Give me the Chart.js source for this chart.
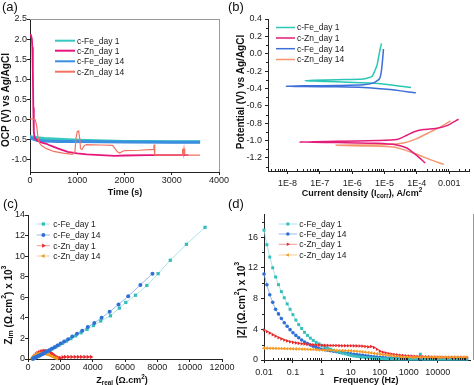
<!DOCTYPE html>
<html>
<head>
<meta charset="utf-8">
<script src="https://cdn.jsdelivr.net/npm/chart.js@4/dist/chart.umd.min.js"></script>
<style>
  body { margin: 0; background: #fff; }
  #wrap { position: relative; width: 474px; height: 385px; overflow: hidden; }
  canvas { position: absolute; left: 0; top: 0; }
</style>
</head>
<body>
<div id="wrap">
  <canvas id="ca" width="474" height="385"></canvas>
  <canvas id="cb" width="474" height="385"></canvas>
  <canvas id="cc" width="474" height="385"></canvas>
  <canvas id="cd" width="474" height="385"></canvas>
</div>
<script>
//labels
var labelsAB = ["c-Fe_day 1", "c-Zn_day 1", "c-Fe_day 14", "c-Zn_day 14"];
var labelsCD = ["c-Fe_day 1", "c-Fe_day 14", "c-Zn_day 1", "c-Zn_day 14"];

//(a) OCP vs time
var aXTicks = [0, 1000, 2000, 3000, 4000];
var aYTicks = [-1.0, -0.5, 0.0, 0.5, 1.0, 1.5, 2.0, 2.5];
var aFe1T = [0, 50, 150, 300, 500, 800, 1200, 1600, 2000, 2500, 3000, 3600];
var aFe1V = [-0.42, -0.43, -0.45, -0.47, -0.48, -0.5, -0.52, -0.53, -0.54, -0.545, -0.55, -0.55];
var aFe14T = [0, 30, 80, 150, 300, 600, 1000, 1500, 2000, 3000, 3600];
var aFe14V = [-0.44, -0.46, -0.49, -0.51, -0.53, -0.54, -0.545, -0.55, -0.555, -0.56, -0.56];
var aZn1T = [0, 20, 40, 50, 60, 70, 80, 100, 150, 250, 350, 400, 450, 600, 800, 1000, 1200, 1500, 1800, 2000, 2500, 3000, 3350];
var aZn1V = [2.12, 2.1, 2.0, 1.8, 1.2, 0.3, -0.3, -0.45, -0.52, -0.57, -0.6, -0.63, -0.65, -0.72, -0.8, -0.84, -0.86, -0.88, -0.9, -0.89, -0.88, -0.88, -0.88];
var aZn14T = [0, 60, 110, 140, 170, 200, 250, 350, 500, 700, 900, 950, 975, 1000, 1030, 1050, 1070, 1100, 1150, 1200, 1500, 1750, 1800, 1850, 1900, 1950, 2000, 2300, 2620, 2625, 2640, 2650, 3000, 3220, 3230, 3245, 3260, 3275, 3290, 3600];
var aZn14V = [0.02, 0.02, 0.0, -0.15, -0.45, -0.58, -0.65, -0.72, -0.79, -0.83, -0.86, -0.8, -0.45, -0.3, -0.28, -0.45, -0.72, -0.74, -0.64, -0.62, -0.63, -0.64, -0.72, -0.8, -0.83, -0.79, -0.77, -0.76, -0.74, -0.62, -0.88, -0.88, -0.88, -0.88, -0.72, -0.86, -0.72, -0.86, -0.88, -0.88];

//(b) Tafel
var bXTicks = [1e-8, 1e-7, 1e-6, 1e-5, 1e-4, 1e-3];
var bXLabels = ["1E-8", "1E-7", "1E-6", "1E-5", "1E-4", "0.001"];
var bYTicks = [-1.2, -1.0, -0.8, -0.6, -0.4, -0.2, 0.0, 0.2, 0.4];
var bFe1I = [6.6e-5, 1.2e-5, 3.6e-6, 3.4e-7, 6.4e-8, 3.5e-8, 6.4e-8, 3.4e-7, 2.2e-6, 4.1e-6, 5.1e-6, 5.9e-6, 6.6e-6, 7.4e-6, 8.1e-6];
var bFe1V = [-0.388, -0.354, -0.338, -0.323, -0.315, -0.312, -0.306, -0.298, -0.29, -0.26, -0.19, -0.13, -0.035, 0.06, 0.12];
var bFe14I = [9.3e-5, 1.2e-5, 2.2e-6, 3.4e-7, 3.2e-8, 9.1e-9, 3.2e-8, 3.4e-7, 2.2e-6, 4.6e-6, 7.1e-6, 8.1e-6, 8.7e-6, 9.3e-6];
var bFe14V = [-0.45, -0.41, -0.388, -0.381, -0.377, -0.373, -0.369, -0.365, -0.358, -0.335, -0.285, -0.188, -0.073, 0.054];
var bZn1I = [1.82e-4, 1.29e-4, 7.9e-5, 4.9e-5, 2.4e-5, 5.9e-6, 3.4e-7, 2.3e-8, 3.4e-7, 5.9e-6, 2.4e-5, 4.9e-5, 7.9e-5, 1.62e-4, 4.2e-4, 8.5e-4, 1.95e-3];
var bZn1V = [-1.258, -1.208, -1.142, -1.085, -1.05, -1.031, -1.023, -1.016, -1.008, -1.0, -0.988, -0.938, -0.9, -0.873, -0.858, -0.827, -0.754];
var bZn14I = [6.8e-4, 2.6e-4, 1.0e-4, 3.9e-5, 1.9e-5, 3.6e-6, 3.2e-7, 3.6e-6, 1.5e-5, 3.9e-5, 1.0e-4, 2.6e-4, 5.4e-4, 1.1e-3];
var bZn14V = [-1.273, -1.219, -1.158, -1.104, -1.073, -1.062, -1.054, -1.05, -1.042, -1.027, -0.977, -0.9, -0.842, -0.773];

//(c) Nyquist
var cXTicks = [0, 2000, 4000, 6000, 8000, 10000, 12000];
var cYTicks = [0, 2, 4, 6, 8, 10, 12, 14];
var cFe1X = [300, 340, 390, 450, 520, 600, 680, 770, 870, 980, 1100, 1230, 1380, 1540, 1720, 1920, 2140, 2380, 2650, 2950, 3280, 3650, 4050, 4500, 5100, 5650, 6050, 6650, 7350, 8050, 8800, 9800, 10950];
var cFe1Y = [0.03, 0.06, 0.1, 0.14, 0.19, 0.25, 0.31, 0.38, 0.46, 0.55, 0.65, 0.76, 0.88, 1.02, 1.17, 1.34, 1.53, 1.74, 1.98, 2.25, 2.55, 2.88, 3.25, 3.7, 4.2, 4.95, 5.5, 6.2, 7.15, 8.3, 9.6, 11.15, 12.8];
var cFe14X = [300, 330, 370, 420, 480, 550, 630, 720, 820, 930, 1050, 1180, 1320, 1470, 1640, 1820, 2020, 2240, 2480, 2740, 3030, 3350, 3700, 4100, 4550, 5050, 5600, 6200, 6950, 7700];
var cFe14Y = [0.02, 0.05, 0.08, 0.12, 0.17, 0.22, 0.28, 0.35, 0.43, 0.52, 0.62, 0.73, 0.86, 1.0, 1.15, 1.32, 1.5, 1.71, 1.93, 2.18, 2.45, 2.75, 3.1, 3.5, 4.0, 4.6, 5.3, 6.1, 7.2, 8.3];
var cZn1X = [300, 350, 420, 500, 600, 700, 800, 900, 1000, 1100, 1200, 1300, 1400, 1500, 1600, 1700, 1800, 1900, 2000, 2150, 2300, 2500, 2700, 2900, 3100, 3300, 3500, 3700, 3900];
var cZn1Y = [0.05, 0.2, 0.35, 0.48, 0.6, 0.68, 0.74, 0.78, 0.8, 0.8, 0.78, 0.72, 0.62, 0.5, 0.38, 0.27, 0.18, 0.12, 0.12, 0.18, 0.2, 0.2, 0.2, 0.2, 0.2, 0.2, 0.2, 0.2, 0.2];
var cZn14X = [250, 280, 320, 370, 430, 500, 580, 670, 770, 880, 1000, 1120, 1250, 1380, 1500, 1620, 1720, 1800];
var cZn14Y = [0.02, 0.1, 0.19, 0.28, 0.36, 0.43, 0.49, 0.53, 0.55, 0.55, 0.53, 0.48, 0.41, 0.33, 0.24, 0.15, 0.08, 0.04];

//(d) Bode |Z|
var dXTicks = [0.01, 0.1, 1, 10, 100, 1000, 10000];
var dXLabels = ["0.01", "0.1", "1", "10", "100", "1000", "10000"];
var dYTicks = [0, 4, 8, 12, 16];
var dFreq = [0.01, 0.0126, 0.0158, 0.02, 0.0251, 0.0316, 0.0398, 0.0501, 0.0631, 0.0794,
  0.1, 0.126, 0.158, 0.2, 0.251, 0.316, 0.398, 0.501, 0.631, 0.794,
  1, 1.26, 1.58, 2, 2.51, 3.16, 3.98, 5.01, 6.31, 7.94,
  10, 12.6, 15.8, 20, 25.1, 31.6, 39.8, 50.1, 63.1, 79.4,
  100, 126, 158, 200, 251, 316, 398, 501, 631, 794,
  1000, 1260, 1580, 2000, 2510, 3160, 3980, 5010, 6310, 7940,
  10000, 12600, 15800, 20000, 25100, 31600, 39800, 50100, 63100, 79400, 100000];
var dFe1Z = [16.9, 15.0, 13.4, 12.0, 10.8, 9.8, 8.9, 8.1, 7.3, 6.6,
  5.9, 5.2, 4.6, 4.1, 3.6, 3.2, 2.85, 2.55, 2.3, 2.1,
  1.9, 1.72, 1.55, 1.4, 1.26, 1.13, 1.01, 0.9, 0.8, 0.7,
  0.6, 0.53, 0.47, 0.42, 0.37, 0.33, 0.29, 0.26, 0.23, 0.21,
  0.19, 0.17, 0.16, 0.15, 0.14, 0.13, 0.13, 0.12, 0.12, 0.12,
  0.12, 0.12, 0.12, 0.12, 0.75, 0.12, 0.12, 0.12, 0.12, 0.12,
  0.12, 0.12, 0.12, 0.12, 0.12, 0.12, 0.12, 0.12, 0.12, 0.12, 0.12];
var dFe14Z = [11.2, 9.8, 8.5, 7.5, 6.6, 6.0, 5.4, 4.85, 4.4, 3.95,
  3.55, 3.2, 2.9, 2.6, 2.35, 2.15, 1.95, 1.8, 1.65, 1.52,
  1.4, 1.33, 1.26, 1.2, 1.14, 1.08, 1.02, 0.96, 0.91, 0.86,
  0.8, 0.75, 0.7, 0.65, 0.6, 0.55, 0.5, 0.46, 0.42, 0.38,
  0.35, 0.32, 0.29, 0.26, 0.24, 0.22, 0.2, 0.18, 0.17, 0.16,
  0.15, 0.15, 0.15, 0.15, 0.15, 0.15, 0.15, 0.15, 0.15, 0.15,
  0.15, 0.15, 0.15, 0.15, 0.15, 0.15, 0.15, 0.15, 0.15, 0.15, 0.15];
var dZn1Z = [3.9, 3.7, 3.5, 3.3, 3.1, 2.92, 2.75, 2.6, 2.48, 2.38,
  2.3, 2.23, 2.17, 2.12, 2.08, 2.04, 2.01, 1.98, 1.96, 1.94,
  1.92, 1.91, 1.9, 1.89, 1.88, 1.88, 1.87, 1.86, 1.86, 1.85,
  1.85, 1.84, 1.83, 1.82, 1.8, 1.76, 1.7, 1.75, 1.62, 1.4,
  1.15, 1.02, 0.92, 0.84, 0.77, 0.71, 0.66, 0.62, 0.58, 0.55,
  0.52, 0.5, 0.48, 0.46, 0.44, 0.42, 0.41, 0.4, 0.39, 0.38,
  0.37, 0.37, 0.36, 0.36, 0.36, 0.35, 0.35, 0.35, 0.35, 0.35, 0.35];
var dZn14Z = [1.55, 1.54, 1.53, 1.52, 1.51, 1.5, 1.49, 1.48, 1.47, 1.46,
  1.45, 1.44, 1.43, 1.42, 1.41, 1.4, 1.38, 1.36, 1.34, 1.32,
  1.3, 1.29, 1.28, 1.27, 1.26, 1.25, 1.24, 1.23, 1.22, 1.21,
  1.2, 1.17, 1.14, 1.1, 1.06, 1.02, 0.97, 0.92, 0.87, 0.82,
  0.77, 0.72, 0.67, 0.62, 0.57, 0.52, 0.48, 0.44, 0.41, 0.38,
  0.36, 0.35, 0.35, 0.35, 0.35, 0.35, 0.35, 0.35, 0.35, 0.35,
  0.35, 0.35, 0.35, 0.35, 0.35, 0.35, 0.35, 0.35, 0.35, 0.35, 0.35];

var FONT = "'Liberation Sans', Arial, sans-serif";
Chart.defaults.font.family = FONT;
Chart.defaults.font.size = 9;
Chart.defaults.color = "#222";

var YW = 28; // y axis box width
var XH = 18; // x axis box height

function zip(xs, ys) {
  return xs.map(function (x, i) { return { x: x, y: ys[i] }; });
}

//plain line series
function lineSet(label, xs, ys, color, width, order, tension) {
  return {
    label: label, data: zip(xs, ys), showLine: true,
    borderColor: color, borderWidth: width, pointRadius: 0,
    tension: tension || 0, order: order
  };
}

//line + marker series
function markSet(label, xs, ys, color, lineColor, style, rot, r, order) {
  return {
    label: label, data: zip(xs, ys), showLine: true,
    borderColor: lineColor, borderWidth: 0.8,
    pointStyle: style, pointRotation: rot, pointRadius: r,
    pointBackgroundColor: color, pointBorderWidth: 0,
    order: order, clip: 6
  };
}

//axis with fixed tick list and fixed box size
function axis(type, side, min, max, tickVals, fmt, pad) {
  return {
    type: type, position: side, min: min, max: max,
    border: { color: "#222", width: 1 },
    grid: { drawOnChartArea: false, drawTicks: true, tickLength: 3, color: "#222" },
    ticks: { autoSkip: false, maxRotation: 0, padding: pad, color: "#222", font: { size: 9 }, callback: fmt },
    afterBuildTicks: function (s) {
      s.ticks = tickVals.map(function (v) { return { value: v }; });
    },
    afterFit: function (s) {
      if (side === "left") s.width = YW; else s.height = XH;
      s.paddingLeft = 0; s.paddingRight = 0; s.paddingTop = 0; s.paddingBottom = 0;
    }
  };
}

//plot box -> layout padding
function box(L, T, R, B) {
  return { left: L - YW, top: T, right: 474 - R, bottom: 385 - B - XH };
}

function opts(pad, sx, sy) {
  return {
    responsive: false, animation: false, devicePixelRatio: 1,
    layout: { padding: pad },
    plugins: { legend: { display: false }, tooltip: { enabled: false } },
    scales: { x: sx, y: sy }
  };
}

function richWidth(ctx, parts, size) {
  var w = 0;
  parts.forEach(function (p) {
    ctx.font = "bold " + (p[1] ? size * 0.7 : size) + "px " + FONT;
    w += ctx.measureText(p[0]).width;
  });
  return w;
}

//text with sub/superscripts
function drawRich(ctx, parts, cx, cy, rot, size) {
  ctx.save();
  ctx.translate(cx, cy);
  if (rot) ctx.rotate(-Math.PI / 2);
  var x = -richWidth(ctx, parts, size) / 2;
  ctx.fillStyle = "#111";
  ctx.textBaseline = "middle";
  ctx.textAlign = "left";
  parts.forEach(function (p) {
    ctx.font = "bold " + (p[1] ? size * 0.7 : size) + "px " + FONT;
    var dy = p[1] === "sub" ? size * 0.2 : p[1] === "sup" ? -size * 0.45 : 0;
    ctx.fillText(p[0], x, dy);
    x += ctx.measureText(p[0]).width;
  });
  ctx.restore();
}

function minorTicks(ctx, scale, vals, horiz, len) {
  ctx.strokeStyle = "#222";
  ctx.lineWidth = 1;
  vals.forEach(function (v) {
    if (v <= scale.min || v >= scale.max) return;
    var p = Math.round(scale.getPixelForValue(v)) + 0.5;
    ctx.beginPath();
    if (horiz) { ctx.moveTo(p, scale.top); ctx.lineTo(p, scale.top - len); }
    else { ctx.moveTo(scale.right, p); ctx.lineTo(scale.right + len, p); }
    ctx.stroke();
  });
}

function logMinors(lo, hi) {
  var out = [];
  for (var k = lo; k <= hi; k++) {
    for (var m = 2; m <= 9; m++) out.push(m * Math.pow(10, k));
  }
  return out;
}

//titles, legend, letters
function decor(cfg) {
  return {
    id: "decor",
    afterDraw: function (chart) {
      var ctx = chart.ctx;
      var a = chart.chartArea;
      ctx.save();
      ctx.fillStyle = "#111";
      ctx.font = "13px " + FONT;
      ctx.textBaseline = "middle";
      ctx.textAlign = "left";
      ctx.fillText(cfg.letter[0], cfg.letter[1], cfg.letter[2]);

      if (cfg.frameTop) {
        ctx.strokeStyle = "#999";
        ctx.lineWidth = 1;
        ctx.beginPath();
        ctx.moveTo(a.left, a.top + 0.5); ctx.lineTo(a.right + 0.5, a.top + 0.5);
        ctx.stroke();
      }
      if (cfg.frameRight) {
        ctx.strokeStyle = "#999";
        ctx.lineWidth = 1;
        ctx.beginPath();
        ctx.moveTo(cfg.frameRight, a.top); ctx.lineTo(cfg.frameRight, a.bottom);
        ctx.stroke();
      }
      if (cfg.minX) minorTicks(ctx, chart.scales.x, cfg.minX, true, 2);
      if (cfg.minY) minorTicks(ctx, chart.scales.y, cfg.minY, false, -2);

      drawRich(ctx, cfg.xTitle, cfg.xPos[0], cfg.xPos[1], false, 9);
      drawRich(ctx, cfg.yTitle, cfg.yPos[0], cfg.yPos[1], true, 10);

      var lg = cfg.legend;
      lg.idx.forEach(function (di, i) {
        var ds = chart.data.datasets[di];
        var y = lg.ys[i];
        ctx.strokeStyle = ds.borderColor;
        ctx.lineWidth = lg.lw || ds.borderWidth;
        ctx.beginPath();
        ctx.moveTo(lg.x1, y); ctx.lineTo(lg.x2, y);
        ctx.stroke();
        if (ds.pointRadius) {
          ctx.fillStyle = ds.pointBackgroundColor;
          Chart.helpers.drawPoint(ctx, { pointStyle: ds.pointStyle, rotation: ds.pointRotation, radius: ds.pointRadius, borderWidth: 0 }, (lg.x1 + lg.x2) / 2, y);
        }
        ctx.fillStyle = "#222";
        ctx.font = "8.5px " + FONT;
        ctx.textBaseline = "middle";
        ctx.textAlign = "left";
        ctx.fillText(ds.label, lg.tx, y + 0.5);
      });
      ctx.restore();
    }
  };
}

var fix1 = function (v) { return v.toFixed(1); };
var plain = function (v) { return String(v); };

//chart a
new Chart(document.getElementById("ca"), {
  type: "scatter",
  data: {
    datasets: [
      lineSet(labelsAB[0], aFe1T, aFe1V, "#35c8c0", 3, 3),
      lineSet(labelsAB[1], aZn1T, aZn1V, "#e8157d", 1.8, 1),
      lineSet(labelsAB[2], aFe14T, aFe14V, "#3b8ee0", 3, 2),
      lineSet(labelsAB[3], aZn14T, aZn14V, "#f27262", 1.2, 0)
    ]
  },
  options: opts(box(30, 19, 219, 172),
    axis("linear", "bottom", 0, 4000, aXTicks, plain, 0),
    axis("linear", "left", -1.3, 2.5, aYTicks, fix1, 0)),
  plugins: [decor({
    letter: ["(a)", 2, 7],
    frameTop: true, frameRight: 219.5,
    xTitle: [["Time (s)"]], xPos: [125, 193],
    yTitle: [["OCP (V) vs Ag/AgCl"]], yPos: [6, 100],
    legend: { idx: [0, 1, 2, 3], ys: [40.7, 50.7, 61.3, 71.7], x1: 55, x2: 75, tx: 77, lw: 2 }
  })]
});

//chart b
new Chart(document.getElementById("cb"), {
  type: "scatter",
  data: {
    datasets: [
      lineSet(labelsAB[0], bFe1I, bFe1V, "#2cc6b6", 1.5, 1, 0.2),
      lineSet(labelsAB[1], bZn1I, bZn1V, "#e31c79", 1.5, 2, 0.2),
      lineSet(labelsAB[2], bFe14I, bFe14V, "#3d6fd9", 1.5, 0, 0.2),
      lineSet(labelsAB[3], bZn14I, bZn14V, "#f4956f", 1.5, 3, 0.2)
    ]
  },
  options: opts(box(268, 19, 469, 171),
    axis("logarithmic", "bottom", 2.5e-9, 4.1e-3, bXTicks, function (v, i) { return bXLabels[i]; }, 4),
    axis("linear", "left", -1.35, 0.4, bYTicks, fix1, 3)),
  plugins: [decor({
    letter: ["(b)", 228, 7],
    minX: logMinors(-9, -3),
    minY: [-1.3, -1.1, -0.9, -0.7, -0.5, -0.3, -0.1, 0.1, 0.3],
    xTitle: [["Current density (I"], ["corr", "sub"], ["), A/cm"], ["2", "sup"]], xPos: [362, 194],
    yTitle: [["Potential (V) vs Ag/AgCl"]], yPos: [241, 92],
    legend: { idx: [0, 1, 2, 3], ys: [27.5, 38, 48.7, 59.5], x1: 276, x2: 295, tx: 297, lw: 1.5 }
  })]
});

//chart c
new Chart(document.getElementById("cc"), {
  type: "scatter",
  data: {
    datasets: [
      markSet(labelsCD[0], cFe1X, cFe1Y, "#35bcbc", "#98dede", "rect", 0, 2.3, 1),
      markSet(labelsCD[1], cFe14X, cFe14Y, "#2f6fd6", "#7fa8ea", "circle", 0, 2, 0),
      markSet(labelsCD[2], cZn1X, cZn1Y, "#e8262a", "#f08080", "triangle", 90, 2.4, 3),
      markSet(labelsCD[3], cZn14X, cZn14Y, "#f5961e", "#f8c27a", "triangle", -90, 2.4, 2)
    ]
  },
  options: opts(box(28, 215, 222, 359),
    axis("linear", "bottom", 0, 12000, cXTicks, plain, 0),
    axis("linear", "left", 0, 14, cYTicks, plain, 0)),
  plugins: [decor({
    letter: ["(c)", 3, 204],
    xTitle: [["Z"], ["real", "sub"], [" (\u03A9.cm"], ["2", "sup"], [")"]], xPos: [122, 381],
    yTitle: [["Z"], ["im", "sub"], [" (\u03A9.cm"], ["2", "sup"], [") x 10"], ["3", "sup"]], yPos: [9, 305],
    legend: { idx: [0, 1, 2, 3], ys: [224, 235, 245.7, 256], x1: 36.7, x2: 50, tx: 53.3, lw: 0.8 }
  })]
});

//chart d
new Chart(document.getElementById("cd"), {
  type: "scatter",
  data: {
    datasets: [
      markSet(labelsCD[0], dFreq, dFe1Z, "#35bcbc", "#98dede", "rect", 0, 2.1, 2),
      markSet(labelsCD[1], dFreq, dFe14Z, "#2f6fd6", "#7fa8ea", "circle", 0, 1.8, 3),
      markSet(labelsCD[2], dFreq, dZn1Z, "#e8262a", "#f08080", "triangle", 90, 2.1, 1),
      markSet(labelsCD[3], dFreq, dZn14Z, "#f5961e", "#f8c27a", "triangle", -90, 2.1, 0)
    ]
  },
  options: opts(box(264, 214, 472, 360),
    axis("logarithmic", "bottom", 0.01, 1.3e5, dXTicks, function (v, i) { return dXLabels[i]; }, 4),
    axis("linear", "left", 0, 19, dYTicks, plain, 3)),
  plugins: [decor({
    letter: ["(d)", 228, 204],
    frameRight: 473.5,
    minX: logMinors(-2, 5),
    minY: [2, 6, 10, 14, 18],
    xTitle: [["Frequency (Hz)"]], xPos: [366, 381],
    yTitle: [["|Z| (\u03A9.cm"], ["2", "sup"], [") x 10"], ["3", "sup"]], yPos: [242, 300],
    legend: { idx: [0, 1, 2, 3], ys: [224, 234, 244.3, 255], x1: 278.7, x2: 297, tx: 299.3, lw: 0.8 }
  })]
});
</script>
</body>
</html>
